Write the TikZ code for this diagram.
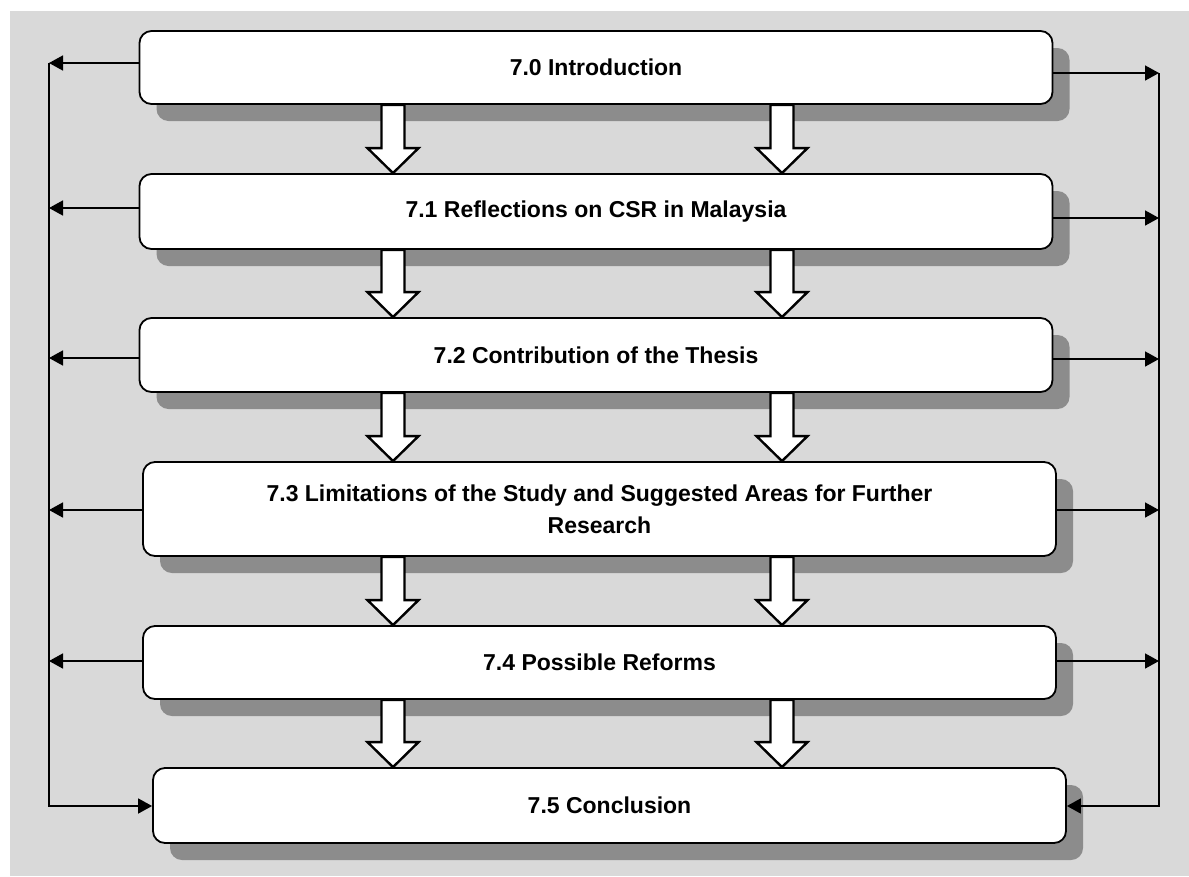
\documentclass[tikz,border=0pt]{standalone}
\usepackage{fontspec}
\setmainfont{Liberation Sans}
\usetikzlibrary{arrows.meta,shadows,calc}
\definecolor{bggrey}{HTML}{D9D9D9}
\definecolor{shadowgrey}{HTML}{8C8C8C}
\tikzset{
  stage/.style={draw=black, line width=1.8pt, fill=white, rounded corners=12pt,
    minimum width=913pt, align=center, inner sep=0pt,
    font=\fontsize{23}{32}\selectfont\bfseries,
    drop shadow={shadow xshift=17pt, shadow yshift=-17pt, fill=shadowgrey, opacity=1}},
  link/.style={line width=1.6pt, -{Triangle[length=14pt,width=15pt]}},
  flow/.style={draw=black, fill=white, line width=2.4pt, line join=miter},
}
% hollow down arrow from the bottom of one stage to the top of the next
\newcommand\blockarrow[2]{%
  \draw[flow] let \p1=(#1), \p2=(#2) in
    (\x1-11.5pt,\y1) -- (\x1+11.5pt,\y1) -- (\x1+11.5pt,\y2+25pt)
    -- (\x1+25.5pt,\y2+25pt) -- (\x2,\y2) -- (\x1-25.5pt,\y2+25pt)
    -- (\x1-11.5pt,\y2+25pt) -- cycle;}
\begin{document}
\begin{tikzpicture}[x=1pt,y=-1pt]
\useasboundingbox (0,0) rectangle (1189,876);
\fill[bggrey] (10,11) rectangle (1189,876);

% chapter stages
\node[stage, minimum height=73pt] (b0) at (596,67.5) {7.0 Introduction};
\node[stage, minimum height=75pt] (b1) at (596,211.5) {7.1 Reflections on CSR in Malaysia};
\node[stage, minimum height=74pt] (b2) at (596,355) {7.2 Contribution of the Thesis};
\node[stage, minimum height=94pt] (b3) at (599.5,509) {7.3 Limitations of the Study and Suggested Areas for Further\\Research};
\node[stage, minimum height=73pt] (b4) at (599.5,662.5) {7.4 Possible Reforms};
\node[stage, minimum height=75pt] (b5) at (609.5,805.5) {7.5 Conclusion};

% columns of the hollow arrows
\coordinate (cl) at (393,0);
\coordinate (cr) at (782,0);
\foreach \a/\b in {b0/b1,b1/b2,b2/b3,b3/b4,b4/b5}{
  \blockarrow{\a.south -| cl}{\b.north -| cl}
  \blockarrow{\a.south -| cr}{\b.north -| cr}
}

% side rails
\coordinate (L0) at (49,63);
\coordinate (L1) at (49,208);
\coordinate (L2) at (49,358);
\coordinate (L3) at (49,510);
\coordinate (L4) at (49,661);
\coordinate (L5) at (49,806);
\coordinate (R0) at (1159,73);
\coordinate (R1) at (1159,218);
\coordinate (R2) at (1159,359);
\coordinate (R3) at (1159,510);
\coordinate (R4) at (1159,661);
\coordinate (R5) at (1159,806);

\foreach \i in {0,...,4}{
  \draw[link] (b\i.west |- L\i) -- (L\i);
  \draw[link] (b\i.east |- R\i) -- (R\i);
}
\draw[link] (L0) -- (L5) -- (b5.west |- L5);
\draw[link] (R0) -- (R5) -- (b5.east |- R5);
\end{tikzpicture}
\end{document}
